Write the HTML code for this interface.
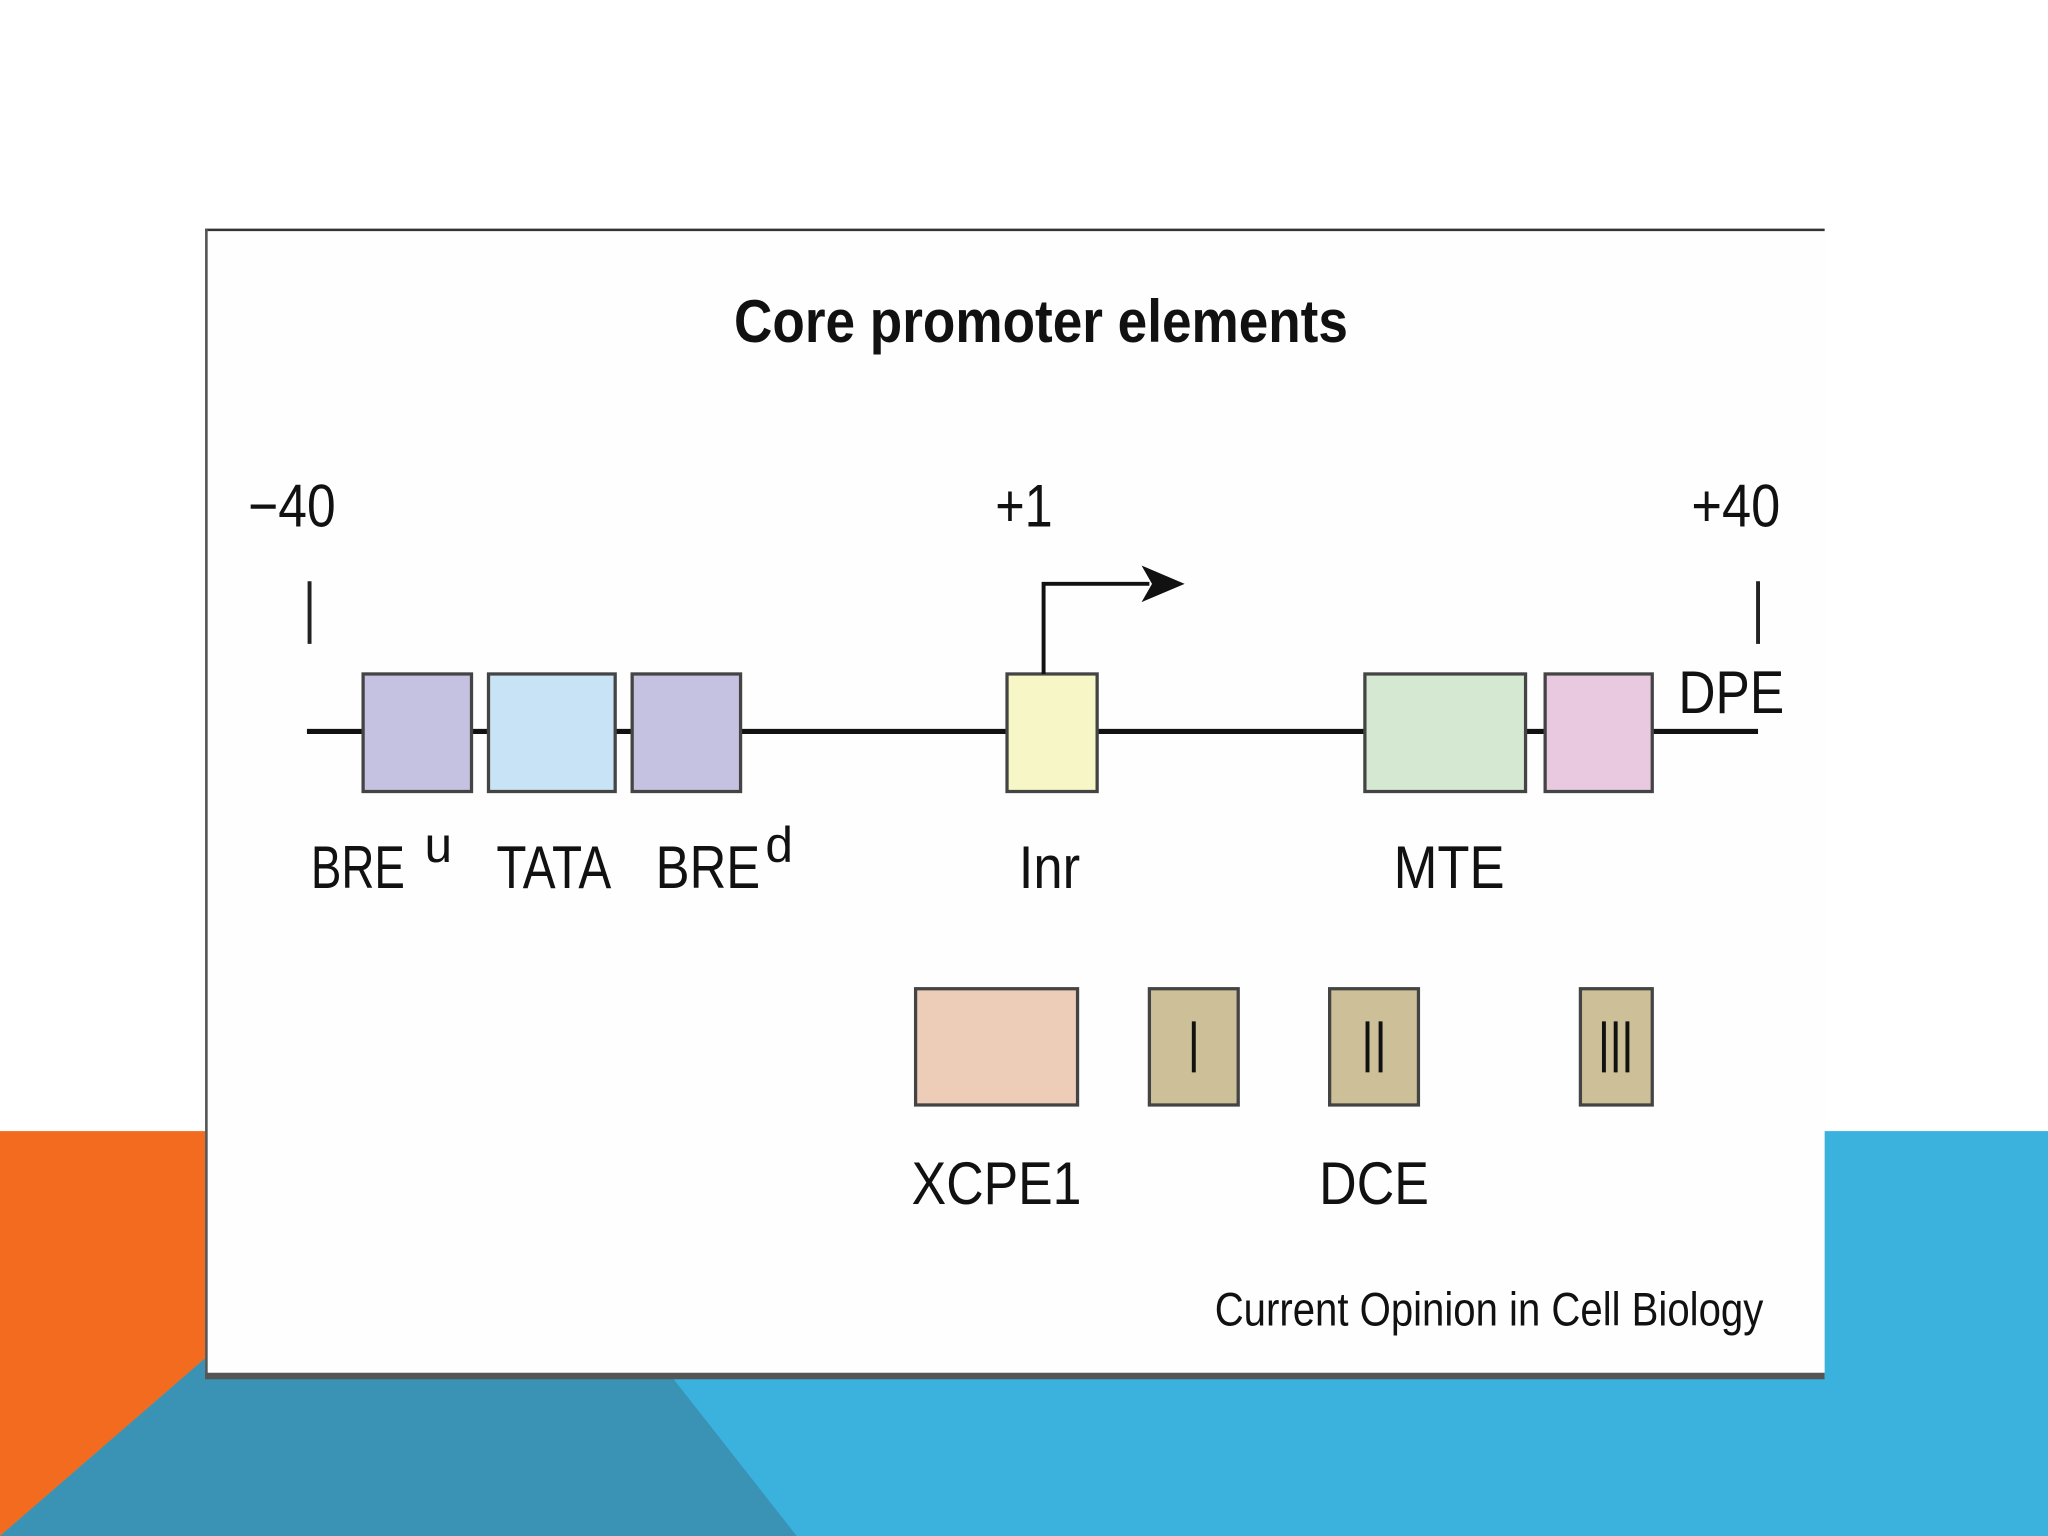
<!DOCTYPE html>
<html><head><style>html,body{margin:0;padding:0;background:#fff}svg{display:block}</style></head>
<body>
<svg width="2048" height="1536" viewBox="0 0 1568 1176" xmlns="http://www.w3.org/2000/svg" font-family="Liberation Sans, sans-serif">
<rect width="1568" height="1176" fill="#fff"/>
<rect x="0" y="866" width="200" height="310" fill="#f26b1f"/>
<rect x="1390" y="866" width="178" height="310" fill="#3bb2de"/>
<polygon points="157,1040 157,1055 1568,1055 1568,1176 0,1176" fill="#3bb2de"/>
<polygon points="157,1040 157,1055 515,1055 610,1176 0,1176" fill="#3a93b5"/>
<rect x="157" y="175" width="1240" height="880" fill="#fefefe"/>
<line x1="157" y1="176" x2="1397" y2="176" stroke="#333" stroke-width="2"/>
<line x1="158" y1="175" x2="158" y2="1055" stroke="#555" stroke-width="2"/>
<rect x="157" y="1051" width="1240" height="5" fill="#555"/>
<text x="562" y="262" font-size="46" font-weight="bold" textLength="470" lengthAdjust="spacingAndGlyphs" fill="#111">Core promoter elements</text>
<g font-size="46" fill="#111">
<text x="190" y="403" textLength="67" lengthAdjust="spacingAndGlyphs">−40</text>
<text x="762" y="403" textLength="44" lengthAdjust="spacingAndGlyphs">+1</text>
<text x="1295" y="403" textLength="68" lengthAdjust="spacingAndGlyphs">+40</text>
<text x="1285" y="546" textLength="81" lengthAdjust="spacingAndGlyphs">DPE</text>
<text x="238" y="680" textLength="72" lengthAdjust="spacingAndGlyphs">BRE</text>
<text x="325" y="660" font-size="38">u</text>
<text x="380" y="680" textLength="88" lengthAdjust="spacingAndGlyphs">TATA</text>
<text x="502" y="680" textLength="80" lengthAdjust="spacingAndGlyphs">BRE</text>
<text x="586" y="660" font-size="38">d</text>
<text x="780" y="680" textLength="47" lengthAdjust="spacingAndGlyphs">Inr</text>
<text x="1067" y="680" textLength="85" lengthAdjust="spacingAndGlyphs">MTE</text>
<text x="698" y="922" textLength="130" lengthAdjust="spacingAndGlyphs">XCPE1</text>
<text x="1010" y="922" textLength="84" lengthAdjust="spacingAndGlyphs">DCE</text>
</g>
<text x="930" y="1015" font-size="36" textLength="420" lengthAdjust="spacingAndGlyphs" fill="#111">Current Opinion in Cell Biology</text>
<line x1="237" y1="445" x2="237" y2="493" stroke="#222" stroke-width="3"/>
<line x1="1346" y1="445" x2="1346" y2="493" stroke="#222" stroke-width="3"/>
<line x1="235" y1="560" x2="1346" y2="560" stroke="#111" stroke-width="4"/>
<g stroke="#444" stroke-width="2.5">
<rect x="278" y="516" width="83" height="90" fill="#c5c1e0"/>
<rect x="374" y="516" width="97" height="90" fill="#c7e3f5"/>
<rect x="484" y="516" width="83" height="90" fill="#c5c1e0"/>
<rect x="771" y="516" width="69" height="90" fill="#f6f6c6"/>
<rect x="1045" y="516" width="123" height="90" fill="#d5e9d2"/>
<rect x="1183" y="516" width="82" height="90" fill="#e8c9e0"/>
<rect x="701" y="757" width="124" height="89" fill="#edcdb8"/>
<rect x="880" y="757" width="68" height="89" fill="#cdbf98"/>
<rect x="1018" y="757" width="68" height="89" fill="#cdbf98"/>
<rect x="1210" y="757" width="55" height="89" fill="#cdbf98"/>
</g>
<g stroke="#111" stroke-width="3">
<line x1="914" y1="782" x2="914" y2="821"/>
<line x1="1047" y1="782" x2="1047" y2="821"/><line x1="1057" y1="782" x2="1057" y2="821"/>
<line x1="1228" y1="782" x2="1228" y2="821"/><line x1="1237" y1="782" x2="1237" y2="821"/><line x1="1246" y1="782" x2="1246" y2="821"/>
</g>
<polyline points="799,516 799,447 880,447" fill="none" stroke="#111" stroke-width="3"/>
<polygon points="874,433 907,447 874,461 882,447" fill="#111"/>
</svg>
</body></html>
